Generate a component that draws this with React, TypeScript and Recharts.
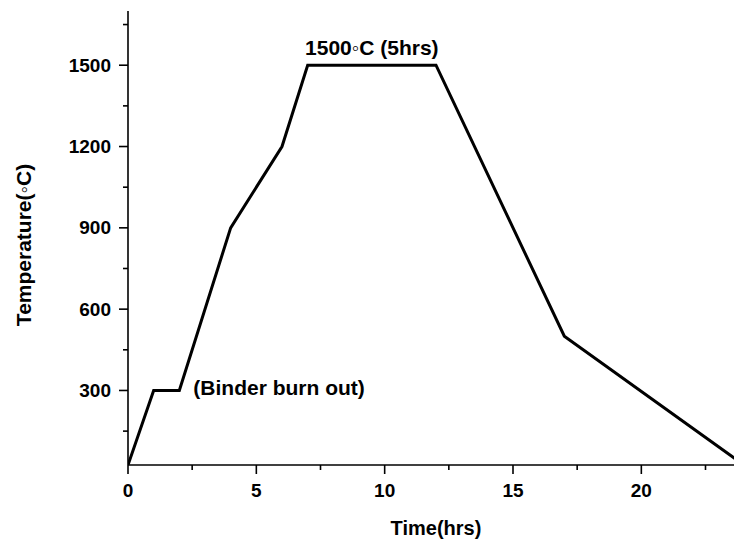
import { LineChart, Line, XAxis, YAxis, ReferenceDot } from "recharts";

// firing schedule: time (hrs) vs temperature (°C)
const timeHrs = [0, 1, 2, 4, 6, 7, 12, 17, 24];
const tempC = [25, 300, 300, 900, 1200, 1500, 1500, 500, 25];

const xMajor = [0, 5, 10, 15, 20];
const xTicks = [0, 2.5, 5, 7.5, 10, 12.5, 15, 17.5, 20, 22.5];
const yMajor = [300, 600, 900, 1200, 1500];
const yTicks = [150, 300, 450, 600, 750, 900, 1050, 1200, 1350, 1500, 1650];

const data = timeHrs.map((t, i) => ({ t, temp: tempC[i] }));

const FONT = "'Liberation Sans', Arial, Helvetica, sans-serif";

function BottomTick({ x, y, payload }: any) {
  const major = xMajor.includes(payload.value);
  return (
    <g>
      <line x1={x} x2={x} y1={y} y2={y + (major ? 9 : 5)} stroke="#000" strokeWidth={1.6} />
      {major && (
        <text x={x} y={y + 25} textAnchor="middle" dominantBaseline="central" fontFamily={FONT} fontWeight="bold" fontSize={19} fill="#000">
          {payload.value}
        </text>
      )}
    </g>
  );
}

function TopTick({ x, y, payload }: any) {
  const major = xMajor.includes(payload.value);
  return <line x1={x} x2={x} y1={y} y2={y + (major ? 9 : 5)} stroke="#000" strokeWidth={1.6} />;
}

function LeftTick({ x, y, payload }: any) {
  const major = yMajor.includes(payload.value);
  return (
    <g>
      <line x1={x} x2={x - (major ? 9 : 5)} y1={y} y2={y} stroke="#000" strokeWidth={1.6} />
      {major && (
        <text x={x - 17} y={y} textAnchor="end" dominantBaseline="central" fontFamily={FONT} fontWeight="bold" fontSize={19} fill="#000">
          {payload.value}
        </text>
      )}
    </g>
  );
}

function Note({ viewBox, text, dx, dy, anchor }: any) {
  return (
    <text
      x={viewBox.x + dx}
      y={viewBox.y + dy}
      textAnchor={anchor}
      dominantBaseline="central"
      fontFamily={FONT}
      fontWeight="bold"
      fontSize={21}
      fill="#000"
    >
      {text}
    </text>
  );
}

function XTitle({ viewBox }: any) {
  return (
    <text x={436} y={viewBox.y + viewBox.height - 13} textAnchor="middle" dominantBaseline="central" fontFamily={FONT} fontWeight="bold" fontSize={20} fill="#000">
      Time(hrs)
    </text>
  );
}

function YTitle({ viewBox }: any) {
  const cx = 23;
  const cy = viewBox.y + viewBox.height / 2 + 7;
  return (
    <text
      x={cx}
      y={cy}
      transform={`rotate(-90 ${cx} ${cy})`}
      textAnchor="middle"
      dominantBaseline="central"
      fontFamily={FONT}
      fontWeight="bold"
      fontSize={21}
      fill="#000"
    >
      Temperature(◦C)
    </text>
  );
}

export default function App() {
  return (
    <div style={{ width: 734, height: 541, overflow: "hidden", background: "#fff" }}>
      <style>{"body{margin:0}"}</style>
      <LineChart width={752} height={541} data={data} margin={{ top: 11, right: 8, bottom: 0, left: 0 }}>
        <XAxis
          dataKey="t"
          type="number"
          domain={[0, 24]}
          ticks={xTicks}
          interval={0}
          allowDataOverflow
          height={76}
          tickSize={0}
          tickMargin={0}
          tick={<BottomTick />}
          axisLine={{ stroke: "#000", strokeWidth: 1.6 }}
          label={<XTitle />}
        />
        <XAxis
          xAxisId="top"
          dataKey="t"
          type="number"
          orientation="top"
          domain={[0, 24]}
          ticks={xTicks}
          interval={0}
          height={0}
          tickSize={0}
          tickMargin={0}
          tick={<TopTick />}
          axisLine={{ stroke: "#000", strokeWidth: 1.6 }}
        />
        <YAxis
          type="number"
          domain={[25, 1700]}
          ticks={yTicks}
          interval={0}
          allowDataOverflow
          width={128}
          tickSize={0}
          tickMargin={0}
          tick={<LeftTick />}
          axisLine={{ stroke: "#000", strokeWidth: 1.6 }}
          label={<YTitle />}
        />
        <Line
          dataKey="temp"
          type="linear"
          stroke="#000"
          strokeWidth={3}
          dot={false}
          isAnimationActive={false}
        />
        <ReferenceDot
          x={2}
          y={300}
          r={0}
          stroke="none"
          fill="none"
          label={<Note text="(Binder burn out)" dx={14} dy={-3} anchor="start" />}
        />
        <ReferenceDot
          x={9.5}
          y={1500}
          r={0}
          stroke="none"
          fill="none"
          label={<Note text="1500◦C (5hrs)" dx={0} dy={-18} anchor="middle" />}
        />
      </LineChart>
    </div>
  );
}
